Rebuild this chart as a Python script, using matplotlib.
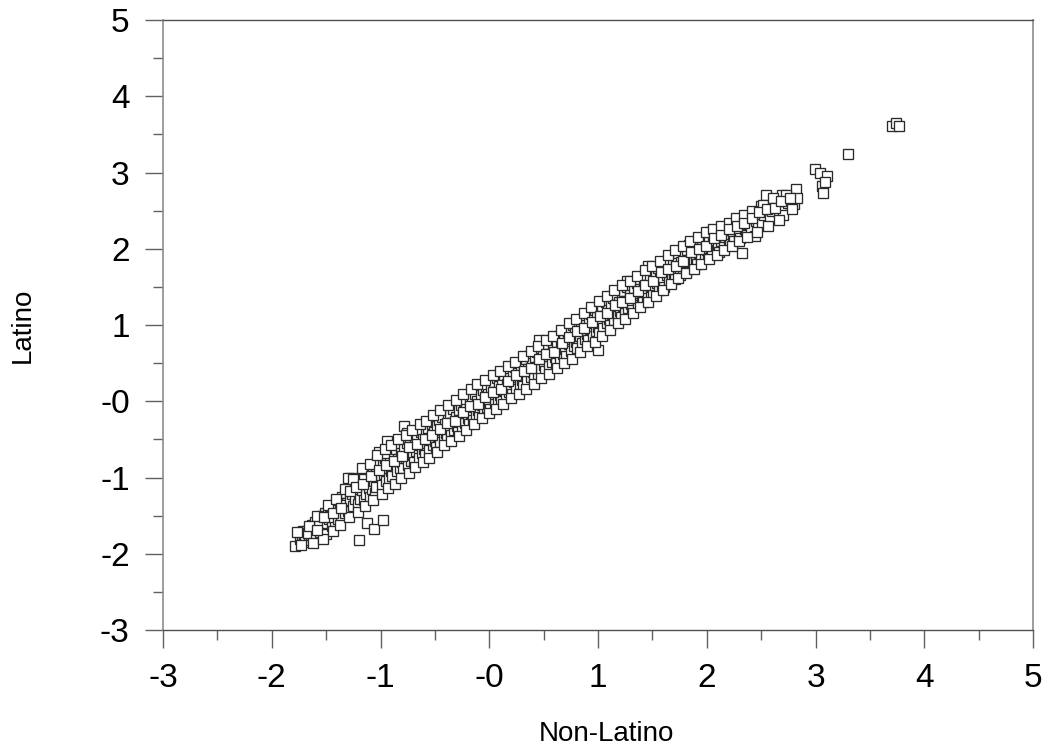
import matplotlib
matplotlib.use("Agg")
import matplotlib.pyplot as plt
from matplotlib.ticker import FixedLocator, FixedFormatter, MultipleLocator

plt.rcParams['font.family'] = ['Liberation Sans', 'DejaVu Sans']

# (Non-Latino, Latino) pairs
points = [
    (-1.79,-1.90),(-1.74,-1.80),(-1.72,-1.76),(-1.70,-1.84),(-1.71,-1.70),
    (-1.69,-1.78),(-1.68,-1.70),(-1.66,-1.82),(-1.65,-1.66),(-1.64,-1.75),(-1.63,-1.62),(-1.62,-1.79),(-1.61,-1.70),(-1.60,-1.58),(-1.67,-1.73),
    (-1.59,-1.76),(-1.58,-1.66),(-1.57,-1.55),(-1.56,-1.72),(-1.55,-1.62),(-1.54,-1.50),(-1.53,-1.68),(-1.52,-1.58),(-1.51,-1.47),(-1.50,-1.74),(-1.57,-1.61),
    (-1.49,-1.60),(-1.48,-1.45),(-1.47,-1.54),(-1.46,-1.38),(-1.45,-1.63),(-1.44,-1.50),(-1.43,-1.42),(-1.42,-1.57),(-1.41,-1.35),(-1.40,-1.48),(-1.46,-1.52),
    (-1.39,-1.55),(-1.38,-1.30),(-1.37,-1.42),(-1.36,-1.50),(-1.35,-1.25),(-1.34,-1.38),(-1.33,-1.46),(-1.32,-1.20),(-1.31,-1.33),(-1.30,-1.44),(-1.36,-1.36),
    (-1.29,-1.10),(-1.28,-1.30),(-1.27,-1.00),(-1.26,-1.22),(-1.25,-1.38),(-1.24,-1.15),(-1.23,-1.28),(-1.22,-1.05),(-1.21,-1.35),(-1.20,-1.20),(-1.30,-1.00),
    (-1.20,-1.82),(-1.12,-1.60),(-1.06,-1.68),(-0.98,-1.56),
    (-1.19,-1.28),(-1.18,-1.05),(-1.17,-1.17),(-1.16,-0.95),(-1.15,-1.30),(-1.14,-1.10),(-1.13,-1.22),(-1.12,-0.98),(-1.11,-1.14),(-1.10,-1.25),(-1.15,-1.02),
    (-1.09,-0.92),(-1.08,-1.15),(-1.07,-0.85),(-1.06,-1.05),(-1.05,-1.20),(-1.04,-0.96),(-1.03,-0.80),(-1.02,-1.10),(-1.01,-0.66),(-1.00,-0.98),(-1.04,-1.12),
    (-0.99,-1.10),(-0.98,-0.82),(-0.97,-0.95),(-0.96,-0.75),(-0.95,-1.05),(-0.94,-0.52),(-0.93,-0.88),(-0.92,-1.00),(-0.91,-0.78),(-0.90,-0.92),(-0.95,-0.68),
    (-0.89,-0.98),(-0.88,-0.70),(-0.87,-0.85),(-0.86,-0.62),(-0.85,-0.92),(-0.84,-0.76),(-0.83,-0.58),(-0.82,-0.88),(-0.81,-0.68),(-0.80,-0.80),(-0.78,-0.32),
    (-0.79,-0.88),(-0.78,-0.62),(-0.77,-0.75),(-0.76,-0.55),(-0.75,-0.84),(-0.74,-0.68),(-0.73,-0.48),(-0.72,-0.78),(-0.71,-0.60),(-0.70,-0.70),(-0.76,-0.42),
    (-0.69,-0.80),(-0.68,-0.52),(-0.67,-0.65),(-0.66,-0.45),(-0.65,-0.74),(-0.64,-0.58),(-0.63,-0.40),(-0.62,-0.68),(-0.61,-0.50),(-0.60,-0.62),
    (-0.59,-0.70),(-0.58,-0.42),(-0.57,-0.55),(-0.56,-0.35),(-0.55,-0.64),(-0.54,-0.48),(-0.53,-0.30),(-0.52,-0.58),(-0.51,-0.40),(-0.50,-0.52),
    (-0.49,-0.60),(-0.48,-0.32),(-0.47,-0.45),(-0.46,-0.25),(-0.45,-0.54),(-0.44,-0.38),(-0.43,-0.20),(-0.42,-0.48),(-0.41,-0.30),(-0.40,-0.42),
    (-0.39,-0.50),(-0.38,-0.22),(-0.37,-0.35),(-0.36,-0.15),(-0.35,-0.44),(-0.34,-0.28),(-0.33,-0.10),(-0.32,-0.38),(-0.31,-0.20),(-0.30,-0.32),
    (-0.29,-0.40),(-0.28,-0.12),(-0.27,-0.25),(-0.26,-0.05),(-0.25,-0.34),(-0.24,-0.18),(-0.23,0.00),(-0.22,-0.28),(-0.21,-0.10),(-0.20,-0.22),
    (-0.19,-0.30),(-0.18,-0.02),(-0.17,-0.15),(-0.16,0.05),(-0.15,-0.24),(-0.14,-0.08),(-0.13,0.10),(-0.12,-0.18),(-0.11,0.00),(-0.10,-0.12),
    (-0.09,-0.20),(-0.08,0.08),(-0.07,-0.05),(-0.06,0.15),(-0.05,-0.14),(-0.04,0.02),(-0.03,0.20),(-0.02,-0.08),(-0.01,0.10),(0.00,-0.02),
    (0.01,-0.10),(0.02,0.18),(0.03,0.05),(0.04,0.25),(0.05,-0.04),(0.06,0.12),(0.07,0.30),(0.08,0.02),(0.09,0.20),(0.10,0.08),
    (0.11,0.00),(0.12,0.28),(0.13,0.15),(0.14,0.35),(0.15,0.06),(0.16,0.22),(0.17,0.40),(0.18,0.12),(0.19,0.30),(0.20,0.18),
    (0.21,0.10),(0.22,0.38),(0.23,0.25),(0.24,0.45),(0.25,0.16),(0.26,0.32),(0.27,0.50),(0.28,0.22),(0.29,0.40),(0.30,0.28),
    (0.31,0.20),(0.32,0.48),(0.33,0.35),(0.34,0.55),(0.35,0.26),(0.36,0.42),(0.37,0.60),(0.38,0.32),(0.39,0.50),(0.40,0.38),
    (0.41,0.30),(0.42,0.58),(0.43,0.45),(0.44,0.65),(0.45,0.36),(0.46,0.52),(0.47,0.70),(0.48,0.42),(0.49,0.60),(0.50,0.48),(0.46,0.80),
    (0.51,0.40),(0.52,0.68),(0.53,0.55),(0.54,0.75),(0.55,0.46),(0.56,0.62),(0.57,0.80),(0.58,0.52),(0.59,0.70),(0.60,0.58),
    (0.61,0.50),(0.62,0.78),(0.63,0.65),(0.64,0.85),(0.65,0.56),(0.66,0.72),(0.67,0.90),(0.68,0.62),(0.69,0.80),(0.70,0.68),
    (0.71,0.60),(0.72,0.88),(0.73,0.75),(0.74,0.95),(0.75,0.66),(0.76,0.82),(0.77,1.00),(0.78,0.72),(0.79,0.90),(0.80,0.78),
    (0.81,0.70),(0.82,0.98),(0.83,0.85),(0.84,1.05),(0.85,0.76),(0.86,0.92),(0.87,1.10),(0.88,0.82),(0.89,1.00),(0.90,0.88),
    (0.91,0.80),(0.92,1.08),(0.93,0.95),(0.94,1.15),(0.95,0.86),(0.96,1.02),(0.97,1.20),(0.98,0.92),(0.99,1.10),(1.00,0.98),(1.00,0.67),
    (1.01,0.90),(1.02,1.18),(1.03,1.05),(1.04,1.25),(1.05,0.96),(1.06,1.12),(1.07,1.30),(1.08,1.02),(1.09,1.20),(1.10,1.08),
    (1.11,1.00),(1.12,1.28),(1.13,1.15),(1.14,1.35),(1.15,1.06),(1.16,1.22),(1.17,1.40),(1.18,1.12),(1.19,1.30),(1.20,1.18),
    (1.21,1.10),(1.22,1.38),(1.23,1.25),(1.24,1.45),(1.25,1.16),(1.26,1.32),(1.27,1.50),(1.28,1.22),(1.29,1.40),(1.30,1.28),(1.27,1.58),
    (1.31,1.20),(1.33,1.48),(1.35,1.35),(1.36,1.55),(1.37,1.26),(1.38,1.42),(1.39,1.60),(1.40,1.32),
    (1.41,1.30),(1.42,1.58),(1.43,1.45),(1.44,1.65),(1.45,1.36),(1.46,1.77),(1.47,1.52),(1.48,1.62),(1.49,1.42),(1.50,1.50),
    (1.51,1.40),(1.53,1.68),(1.54,1.55),(1.55,1.75),(1.56,1.46),(1.57,1.62),(1.58,1.80),(1.59,1.52),(1.60,1.60),
    (1.61,1.50),(1.62,1.78),(1.63,1.65),(1.64,1.85),(1.65,1.56),(1.66,1.72),(1.68,1.62),(1.69,1.80),(1.70,1.68),
    (1.71,1.60),(1.72,1.88),(1.73,1.75),(1.74,1.95),(1.75,1.66),(1.76,1.82),(1.78,1.72),(1.79,1.90),(1.80,1.78),
    (1.81,1.70),(1.82,1.98),(1.83,1.85),(1.84,2.05),(1.86,1.92),(1.87,1.76),(1.88,1.82),(1.89,2.00),(1.90,1.88),
    (1.91,1.80),(1.92,2.08),(1.93,1.95),(1.94,2.12),(1.95,1.86),(1.96,2.02),(1.98,1.92),(1.99,2.10),(2.00,1.98),
    (2.01,1.88),(2.02,2.15),(2.03,2.22),(2.04,2.02),(2.05,1.94),(2.06,2.10),(2.08,2.18),(2.09,1.98),(2.10,2.06),
    (2.11,1.96),(2.12,2.22),(2.13,2.10),(2.15,2.28),(2.16,2.04),(2.17,2.16),(2.19,2.24),(2.20,2.12),
    (2.21,2.06),(2.23,2.30),(2.24,2.18),(2.25,2.10),(2.27,2.26),(2.28,2.34),(2.30,2.20),(2.32,1.94),
    (2.31,2.14),(2.33,2.38),(2.35,2.26),(2.36,2.18),(2.38,2.32),(2.40,2.40),
    (2.41,2.27),(2.43,2.46),(2.44,2.17),(2.45,2.36),(2.47,2.30),(2.49,2.42),(2.51,2.32),(2.53,2.44),(2.50,2.56),
    (2.545,2.71),(2.58,2.39),(2.60,2.50),(2.62,2.58),(2.64,2.64),(2.66,2.48),(2.69,2.71),(2.69,2.53),(2.70,2.44),(2.72,2.63),(2.75,2.60),
    (2.80,2.59),(2.82,2.79),(2.83,2.66),
    (2.995,3.04),(3.04,2.99),(3.11,2.95),(3.06,2.82),(3.09,2.87),(3.07,2.73),
    (3.30,3.24),(3.70,3.61),(3.74,3.65),(3.77,3.61),
]

# points along the upper and lower edges of the band
edge_points = [
    (-1.77,-1.72),(-1.73,-1.88),(-1.62,-1.86),(-1.58,-1.50),(-1.53,-1.80),(-1.48,-1.36),(-1.44,-1.70),(-1.41,-1.28),
    (-1.37,-1.62),(-1.33,-1.15),(-1.29,-1.52),(-1.25,-1.02),(-1.21,-1.45),(-1.17,-0.88),(-1.14,-1.38),(-1.10,-0.82),
    (-1.07,-1.30),(-1.03,-0.70),(-0.99,-1.22),(-0.96,-0.62),(-0.93,-1.14),(-0.90,-0.58),(-0.87,-1.08),(-0.84,-0.50),
    (-0.81,-1.00),(-0.77,-0.44),(-0.74,-0.94),(-0.71,-0.38),(-0.68,-0.86),(-0.64,-0.30),(-0.61,-0.80),(-0.58,-0.26),
    (-0.55,-0.74),(-0.52,-0.18),(-0.48,-0.66),(-0.45,-0.12),(-0.42,-0.58),(-0.38,-0.05),(-0.35,-0.52),(-0.31,0.02),
    (-0.28,-0.46),(-0.24,0.10),(-0.21,-0.38),(-0.17,0.16),(-0.14,-0.30),(-0.11,0.22),(-0.07,-0.22),(-0.04,0.28),
    (0.00,-0.16),(0.03,0.34),(0.06,-0.10),(0.10,0.40),(0.13,-0.04),(0.17,0.46),(0.20,0.04),(0.24,0.52),
    (0.27,0.10),(0.31,0.60),(0.34,0.16),(0.38,0.66),(0.41,0.22),(0.45,0.72),(0.48,0.30),(0.52,0.80),
    (0.55,0.36),(0.59,0.86),(0.62,0.44),(0.66,0.94),(0.69,0.50),(0.73,1.02),(0.76,0.56),(0.80,1.08),
    (0.83,0.64),(0.87,1.16),(0.90,0.72),(0.94,1.24),(0.97,0.78),(1.01,1.32),(1.04,0.86),(1.08,1.38),
    (1.11,0.94),(1.15,1.46),(1.18,1.02),(1.22,1.52),(1.25,1.08),(1.29,1.58),(1.32,1.16),(1.36,1.64),
    (1.39,1.24),(1.43,1.72),(1.46,1.30),(1.50,1.78),(1.53,1.38),(1.57,1.84),(1.60,1.46),(1.64,1.92),
    (1.67,1.54),(1.71,1.98),(1.74,1.62),(1.78,2.04),(1.81,1.68),(1.85,2.10),(1.88,1.74),(1.92,2.16),
    (1.95,1.80),(1.99,2.22),(2.02,1.86),(2.06,2.26),(2.09,1.92),(2.13,2.30),(2.16,1.98),(2.20,2.34),
    (2.23,2.04),(2.27,2.40),(2.30,2.10),(2.34,2.44),(2.37,2.16),(2.42,2.50),(2.46,2.22),(2.52,2.58),
    (2.56,2.30),(2.61,2.66),(2.66,2.38),(2.73,2.70),(2.78,2.52),
]

# extra points filling the middle of the band
fill_points = [
    (-1.655,-1.64),(-1.585,-1.69),(-1.515,-1.52),(-1.435,-1.46),(-1.365,-1.40),(-1.285,-1.18),(-1.225,-1.12),
    (-1.165,-1.08),(-1.085,-0.98),(-1.015,-0.90),(-0.945,-0.84),(-0.875,-0.78),(-0.805,-0.72),(-0.735,-0.60),
    (-0.665,-0.56),(-0.595,-0.50),(-0.525,-0.44),(-0.455,-0.36),(-0.385,-0.28),(-0.315,-0.26),(-0.245,-0.14),
    (-0.175,-0.06),(-0.105,-0.04),(-0.035,0.06),(0.035,0.12),(0.105,0.16),(0.175,0.26),(0.245,0.34),
    (0.315,0.40),(0.385,0.44),(0.455,0.56),(0.525,0.62),(0.595,0.64),(0.665,0.76),(0.735,0.84),(0.805,0.92),
    (0.875,0.96),(0.945,1.04),(1.015,1.12),(1.085,1.16),(1.155,1.26),(1.225,1.30),(1.295,1.36),(1.365,1.44),
    (1.435,1.52),(1.505,1.58),(1.575,1.70),(1.645,1.74),(1.715,1.78),(1.785,1.84),(1.855,1.96),(1.925,2.00),
    (1.995,2.04),(2.065,2.14),(2.135,2.18),(2.205,2.26),(2.275,2.30),(2.345,2.34),(2.415,2.40),(2.485,2.48),
    (2.555,2.52),(2.625,2.54),(2.685,2.62),(2.765,2.66),
]

non_latino = ([p[0] for p in points] + [p[0] for p in edge_points]
              + [p[0] for p in fill_points])
latino = ([p[1] for p in points] + [p[1] for p in edge_points]
          + [p[1] for p in fill_points])

tick_values = [-3, -2, -1, 0, 1, 2, 3, 4, 5]
tick_labels = ["-3", "-2", "-1", "-0", "1", "2", "3", "4", "5"]

fig = plt.figure(figsize=(10.56, 7.53), dpi=100)
ax = fig.add_axes([163/1056, 1-630/753, 870/1056, 610/753])

ax.plot(non_latino, latino, linestyle='none', marker='s', markersize=7.0,
        markerfacecolor='white', markeredgecolor='#2a2a2a', markeredgewidth=0.95)

ax.set_xlim(-3, 5)
ax.set_ylim(-3, 5)
for axis in (ax.xaxis, ax.yaxis):
    axis.set_major_locator(FixedLocator(tick_values))
    axis.set_major_formatter(FixedFormatter(tick_labels))
    axis.set_minor_locator(MultipleLocator(0.5))

ax.tick_params(which='major', direction='out', length=13, width=1, color='#606060',
               labelsize=24, pad=11, top=False, right=False)
ax.tick_params(which='minor', direction='out', length=7, width=1, color='#606060',
               top=False, right=False)

for side in ('left', 'right'):
    ax.spines[side].set_color('#8c8c8c')
    ax.spines[side].set_linewidth(1.2)
for side in ('top', 'bottom'):
    ax.spines[side].set_color('#505050')
    ax.spines[side].set_linewidth(1.0)

ax.set_xlabel("Non-Latino", fontsize=20, va='center')
ax.set_ylabel("Latino", fontsize=20, va='center')
ax.xaxis.set_label_coords(0.51, -0.171)
ax.yaxis.set_label_coords(-0.161, 0.5)

fig.savefig("out.png", dpi=100)
